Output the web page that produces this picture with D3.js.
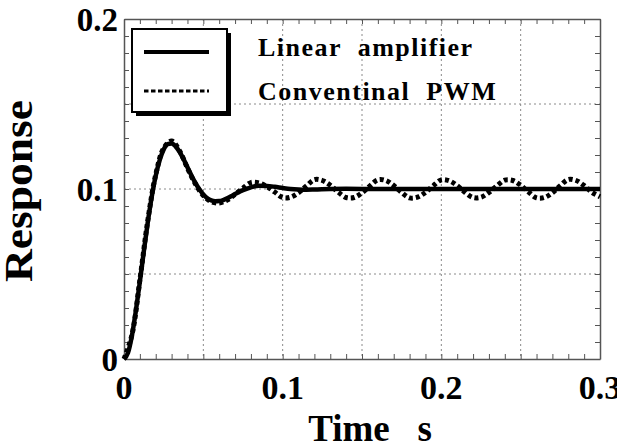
<!DOCTYPE html>
<html>
<head>
<meta charset="utf-8">
<script src="https://cdn.jsdelivr.net/npm/d3@7"></script>
<style>
  body { margin: 0; background: #fff; }
  text { font-family: "Liberation Serif", "Times New Roman", serif; font-weight: bold; fill: #000; }
</style>
</head>
<body>
<div id="chart"></div>
<script>
// time axis of the two responses (s)
const timeLin = [0, 0.0025, 0.005, 0.0075, 0.01, 0.0125, 0.015, 0.0175, 0.02, 0.0225, 0.025, 0.0275, 0.03,
  0.0325, 0.035, 0.0375, 0.04, 0.0425, 0.045, 0.0475, 0.05, 0.0525, 0.055, 0.0575, 0.06, 0.0625, 0.065,
  0.0675, 0.07, 0.075, 0.08, 0.085, 0.09, 0.095, 0.1, 0.105, 0.11, 0.115, 0.12, 0.13, 0.14, 0.16, 0.2, 0.25, 0.3]
const linearAmp = [0, 0.0036, 0.0138, 0.0285, 0.0455, 0.0634, 0.0805, 0.0955, 0.1078, 0.1170, 0.1233, 0.1264, 0.1268,
  0.1251, 0.1219, 0.1176, 0.1128, 0.1080, 0.1036, 0.0998, 0.0968, 0.0946, 0.0933, 0.0928, 0.0929, 0.0935, 0.0945,
  0.0957, 0.0970, 0.0993, 0.1010, 0.1019, 0.1018, 0.1013, 0.1006, 0.1000, 0.0997, 0.0996, 0.0997, 0.1000, 0.1001, 0.1000, 0.1000, 0.1000, 0.1000]

const timePwm = [0, 0.005, 0.01, 0.015, 0.02, 0.025, 0.03, 0.035, 0.04, 0.045, 0.05, 0.055, 0.06, 0.065, 0.07,
  0.075, 0.08, 0.085, 0.09, 0.095, 0.1, 0.105, 0.11, 0.115, 0.12, 0.125, 0.13, 0.135, 0.14, 0.145, 0.15,
  0.155, 0.16, 0.165, 0.17, 0.175, 0.18, 0.185, 0.19, 0.195, 0.2, 0.205, 0.21, 0.215, 0.22, 0.225, 0.23,
  0.235, 0.24, 0.245, 0.25, 0.255, 0.26, 0.265, 0.27, 0.275, 0.28, 0.285, 0.29, 0.295, 0.3]
const conventionalPwm = [0, 0.0142, 0.0465, 0.0815, 0.1085, 0.1240, 0.1282, 0.1225, 0.1122, 0.1030, 0.0962, 0.0925, 0.0918, 0.0935, 0.0968,
  0.1005, 0.1038, 0.1036, 0.1015, 0.0982, 0.0950, 0.0952, 0.0978, 0.1018, 0.1055, 0.1050, 0.1022, 0.0982, 0.0950, 0.0950, 0.0978,
  0.1018, 0.1054, 0.1050, 0.1020, 0.0980, 0.0948, 0.0952, 0.0980, 0.1020, 0.1054, 0.1048, 0.1020, 0.0980, 0.0950, 0.0952, 0.0980,
  0.1018, 0.1052, 0.1050, 0.1022, 0.0982, 0.0948, 0.0950, 0.0978, 0.1020, 0.1056, 0.1050, 0.1020, 0.0980, 0.0955]

const xLabels = [0, 0.1, 0.2, 0.3]
const yLabels = [0, 0.1, 0.2]
const gridX = [0.05, 0.1, 0.15, 0.2, 0.25]
const gridY = [0.05, 0.1, 0.15]
const legendNames = ['Linear  amplifier', 'Conventinal  PWM']

let width = 617
let height = 447
let pLeft = 124, pRight = 600, pTop = 19, pBottom = 359

let svg = d3.select('#chart').append('svg').attr('width', width).attr('height', height)

// 比例尺
let x = d3.scaleLinear().domain([0, 0.3]).range([pLeft, pRight])
let y = d3.scaleLinear().domain([0, 0.2]).range([pBottom, pTop])

// grid lines (dotted)
svg.append('g').selectAll('line').data(gridX).join('line')
  .attr('x1', d => x(d)).attr('x2', d => x(d)).attr('y1', pTop).attr('y2', pBottom)
  .attr('stroke', '#8a8a8a').attr('stroke-width', 1).attr('stroke-dasharray', '2,3')
svg.append('g').selectAll('line').data(gridY).join('line')
  .attr('x1', pLeft).attr('x2', pRight).attr('y1', d => y(d)).attr('y2', d => y(d))
  .attr('stroke', '#8a8a8a').attr('stroke-width', 1).attr('stroke-dasharray', '2,3')

// minor ticks on all four sides, pointing inward
let xTicks = d3.range(0, 0.3001, 0.01)
let yTicks = d3.range(0, 0.2001, 0.01)
function tickAxis (axis, tx, ty) {
  let g = svg.append('g').attr('transform', 'translate(' + tx + ',' + ty + ')').call(axis)
  g.selectAll('text').remove()
  g.select('.domain').attr('stroke', '#555').attr('stroke-width', 1.5)
  g.selectAll('.tick line').attr('stroke', '#555').attr('stroke-width', 1)
}
tickAxis(d3.axisBottom(x).tickValues(xTicks).tickSizeInner(-5).tickSizeOuter(0), 0, pBottom)
tickAxis(d3.axisTop(x).tickValues(xTicks).tickSizeInner(-5).tickSizeOuter(0), 0, pTop)
tickAxis(d3.axisLeft(y).tickValues(yTicks).tickSizeInner(-5).tickSizeOuter(0), pLeft, 0)
tickAxis(d3.axisRight(y).tickValues(yTicks).tickSizeInner(-5).tickSizeOuter(0), pRight, 0)

// tick labels
svg.append('g').selectAll('text').data(xLabels).join('text')
  .attr('x', d => x(d)).attr('y', 399).attr('text-anchor', 'middle')
  .attr('font-size', 34).text(d => d)
svg.append('g').selectAll('text').data(yLabels).join('text')
  .attr('x', 118).attr('y', d => y(d) + 12).attr('text-anchor', 'end')
  .attr('font-size', 33).text(d => d)

// axis titles
svg.append('text').attr('x', 370).attr('y', 441).attr('text-anchor', 'middle')
  .attr('font-size', 37).style('white-space', 'pre').text('Time   s')
svg.append('text').attr('transform', 'translate(32,' + 191 + ') rotate(-90)').attr('text-anchor', 'middle')
  .attr('font-size', 39).attr('textLength', 182).attr('lengthAdjust', 'spacingAndGlyphs').text('Response')

// curves
let lineLin = d3.line().x((d, i) => x(timeLin[i])).y(d => y(d)).curve(d3.curveMonotoneX)
let linePwm = d3.line().x((d, i) => x(timePwm[i])).y(d => y(d)).curve(d3.curveCatmullRom)

svg.append('path').attr('d', linePwm(conventionalPwm)).attr('fill', 'none')
  .attr('stroke', '#000').attr('stroke-width', 5).attr('stroke-dasharray', '4,3')
svg.append('path').attr('d', lineLin(linearAmp)).attr('fill', 'none')
  .attr('stroke', '#000').attr('stroke-width', 4.5).attr('stroke-linejoin', 'round')

// legend box with shadow
let lg = svg.append('g')
lg.append('rect').attr('x', 136).attr('y', 33).attr('width', 95).attr('height', 83).attr('fill', '#000')
lg.append('rect').attr('x', 132).attr('y', 29).attr('width', 95).attr('height', 83)
  .attr('fill', '#fff').attr('stroke', '#000').attr('stroke-width', 2)
lg.append('line').attr('x1', 144).attr('x2', 209).attr('y1', 52).attr('y2', 52)
  .attr('stroke', '#000').attr('stroke-width', 4)
lg.append('line').attr('x1', 144).attr('x2', 209).attr('y1', 91).attr('y2', 91)
  .attr('stroke', '#000').attr('stroke-width', 3).attr('stroke-dasharray', '4.5,2.5')
lg.selectAll('text').data(legendNames).join('text')
  .attr('x', 258).attr('y', (d, i) => 56 + i * 44)
  .attr('font-size', 26).attr('letter-spacing', 1.5).style('white-space', 'pre').text(d => d)
</script>
</body>
</html>
